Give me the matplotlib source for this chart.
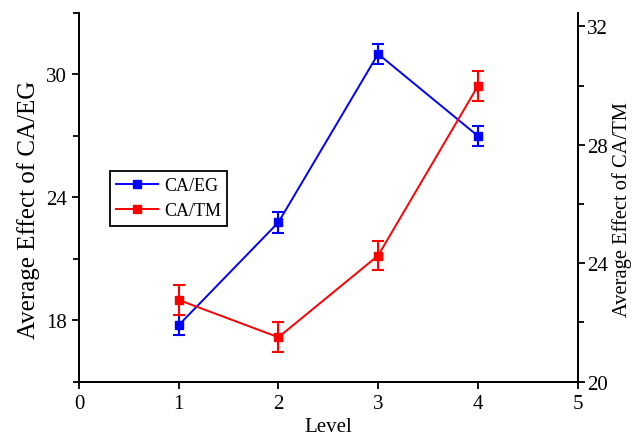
import matplotlib
matplotlib.use("Agg")
import matplotlib.pyplot as plt
from matplotlib.ticker import MultipleLocator
from matplotlib.lines import Line2D

plt.rcParams['font.family'] = ['Liberation Serif', 'DejaVu Serif']
plt.rcParams['font.size'] = 15

levels = [1, 2, 3, 4]
ca_eg = [17.76, 22.78, 31.0, 27.0]
ca_eg_err = [0.5, 0.5, 0.5, 0.5]
ca_tm = [22.76, 21.5, 24.26, 29.98]
ca_tm_err = [0.5, 0.5, 0.5, 0.5]

blue = '#0000ff'
red = '#ff0000'

fig = plt.figure(figsize=(6.35, 4.39), dpi=100)
W, H = 635, 439
x0, x1, ytop, ybot = 79, 577.5, 14, 382.7
ax = fig.add_axes([x0/W, 1 - ybot/H, (x1-x0)/W, (ybot-ytop)/H])
ax2 = ax.twinx()

ax.errorbar(levels, ca_eg, yerr=ca_eg_err, color=blue, marker='s', ms=6,
            lw=1.4, capsize=4.5, capthick=1.5, elinewidth=1.5)
ax2.errorbar(levels, ca_tm, yerr=ca_tm_err, color=red, marker='s', ms=6,
             lw=1.4, capsize=4.5, capthick=1.5, elinewidth=1.5)

ax.set_xlim(0, 5)
ax.set_ylim(15, 33)
ax2.set_ylim(20, 32.45)
ax.xaxis.set_major_locator(MultipleLocator(1))
ax.yaxis.set_major_locator(MultipleLocator(6))
ax.yaxis.set_minor_locator(MultipleLocator(3))
ax2.yaxis.set_major_locator(MultipleLocator(4))
ax2.yaxis.set_minor_locator(MultipleLocator(2))
ax.set_yticks([18, 24, 30])

for a in (ax, ax2):
    a.spines['top'].set_visible(False)
    for s in a.spines.values():
        s.set_linewidth(1.3)
    a.tick_params(which='major', direction='out', length=5, width=1.3, labelsize=15)
    a.tick_params(which='minor', direction='out', length=4, width=1.3)
ax2.tick_params(which='major', pad=2.0)

ax.set_xlabel('Level', fontsize=15)
ax.xaxis.set_label_coords(0.5, -0.097)
ax.set_ylabel('Average Effect of CA/EG', fontsize=18)
ax.yaxis.set_label_coords((40 - x0)/(x1 - x0), 0.47)
ax2.set_ylabel('Average Effect of CA/TM', fontsize=14.8)
ax2.yaxis.set_label_coords((612 - x0)/(x1 - x0), 0.47)

handles = [Line2D([], [], color=blue, marker='s', ms=6, lw=1.4),
           Line2D([], [], color=red, marker='s', ms=6, lw=1.4)]
leg = ax.legend(handles=handles, labels=['CA/EG', 'CA/TM'], loc='upper left',
                bbox_to_anchor=((110 - x0)/(x1 - x0), 1 - (172 - ytop)/(ybot - ytop)),
                borderaxespad=0, fontsize=13,
                frameon=True, fancybox=False, edgecolor='black', framealpha=1,
                handlelength=2.3, borderpad=0.35, labelspacing=0.45, handletextpad=0.35)
leg.get_frame().set_linewidth(1.3)

fig.savefig('out.png', dpi=100)
